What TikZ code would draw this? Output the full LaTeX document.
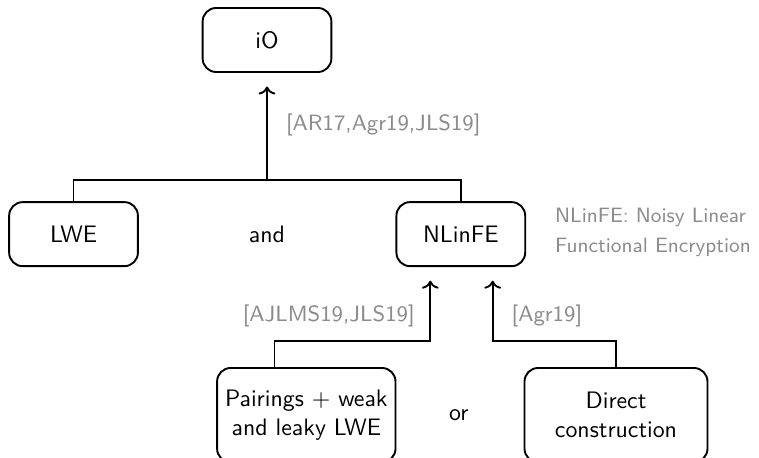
\documentclass[tikz,border=0pt]{standalone}
\usepackage{tikz}
\usepackage{amsmath}
\usetikzlibrary{positioning, arrows.meta}
\tikzset{box/.style={draw,thick,rounded corners=2mm,minimum width=19mm,minimum height=9.45mm,align=center,font=\sffamily},
         bigbox/.style={box,minimum height=13.9mm},
         cite/.style={text=black!45,font=\sffamily\fontsize{9.3}{12.6}\selectfont},
         word/.style={font=\sffamily},
        }

\begin{document}
\begin{tikzpicture}[thick]
        \useasboundingbox (0,0) rectangle (11.2,6.745);
        \node[box](io)at(3.94,6.155){iO};
        \node[box](lwe)at(1.085,3.29){LWE};
        \node[word](and)at(3.94,3.29){and};
        \node[box](nlinfe)at(6.80,3.29){NLinFE};
        \node[cite,anchor=west,align=left,font=\sffamily\fontsize{8.7}{12.6}\selectfont](note)at(8.06,3.32){NLinFE: Noisy Linear\\Functional Encryption};
        \node[bigbox,minimum width=26.3mm](pair)at(4.52,0.62){Pairings $+$ weak\\and leaky LWE};
        \node[word](or)at(6.77,0.62){or};
        \node[bigbox,minimum width=27mm](direct)at(9.09,0.62){Direct\\construction};
        \coordinate(join)at(3.94,4.07);
        \draw(lwe.north)--++(0,0.31)-|(nlinfe.north);
        \draw[->,shorten >=2mm](join)--(io.south)node[pos=0.52,right=1.5mm,cite]{[AR17,Agr19,JLS19]};
        \draw[->,shorten >=2mm]([xshift=-4.7mm]pair.north)--++(0,0.39)-|([xshift=-4.5mm]nlinfe.south)node[pos=0.67,left=1mm,cite]{[AJLMS19,JLS19]};
        \draw[->,shorten >=2mm](direct.north)--++(0,0.39)-|([xshift=4.7mm]nlinfe.south)node[pos=0.67,right=1.5mm,cite]{[Agr19]};
    \end{tikzpicture}
\end{document}
